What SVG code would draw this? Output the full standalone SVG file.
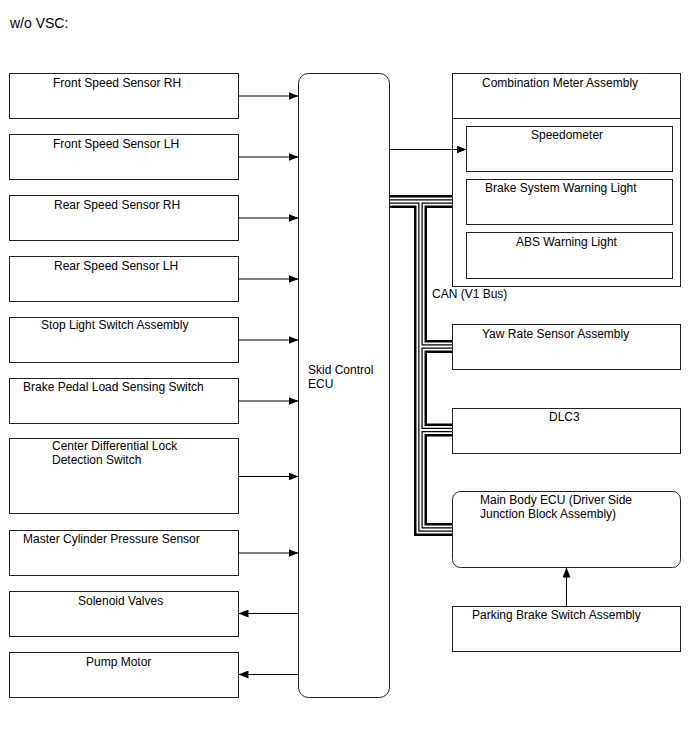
<svg xmlns="http://www.w3.org/2000/svg" width="688" height="755" viewBox="0 0 688 755">
<style>
text{font-family:"Liberation Sans",Arial,sans-serif;font-size:12px;fill:#000}
.box{fill:#fff;stroke:#222;stroke-width:1}
.ln{fill:none;stroke:#000;stroke-width:1}
.b1{fill:none;stroke:#000;stroke-width:13}
.w1{fill:none;stroke:#fff;stroke-width:8}
.b2{fill:none;stroke:#000;stroke-width:4.5}
.w2{fill:none;stroke:#fff;stroke-width:2}
</style>
<defs>
<marker id="ah" viewBox="0 0 10 8" refX="10" refY="4" markerWidth="10" markerHeight="8" markerUnits="userSpaceOnUse" orient="auto">
<path d="M0,0 L10,4 L0,8 z" fill="#000"/>
</marker>
</defs>
<rect width="688" height="755" fill="#fff"/>
<text x="10" y="28" style="font-size:14px">w/o VSC:</text>

<g id="n-frs-rh"><rect class="box" x="9.5" y="73.5" width="229" height="45"/><text x="53" y="87">Front Speed Sensor RH</text></g>
<g id="n-frs-lh"><rect class="box" x="9.5" y="134.5" width="229" height="45"/><text x="53" y="148">Front Speed Sensor LH</text></g>
<g id="n-rrs-rh"><rect class="box" x="9.5" y="195.5" width="229" height="45"/><text x="54" y="209">Rear Speed Sensor RH</text></g>
<g id="n-rrs-lh"><rect class="box" x="9.5" y="256.5" width="229" height="45"/><text x="54" y="270">Rear Speed Sensor LH</text></g>
<g id="n-stop"><rect class="box" x="9.5" y="317.5" width="229" height="45"/><text x="41" y="329">Stop Light Switch Assembly</text></g>
<g id="n-bpl"><rect class="box" x="9.5" y="378.5" width="229" height="45"/><text x="23" y="391">Brake Pedal Load Sensing Switch</text></g>
<g id="n-cdl"><rect class="box" x="9.5" y="438.5" width="229" height="75"/><text x="52" y="450">Center Differential Lock</text><text x="52" y="464">Detection Switch</text></g>
<g id="n-mcp"><rect class="box" x="9.5" y="530.5" width="229" height="45"/><text x="23" y="543">Master Cylinder Pressure Sensor</text></g>
<g id="n-sol"><rect class="box" x="9.5" y="591.5" width="229" height="45"/><text x="78" y="605">Solenoid Valves</text></g>
<g id="n-pump"><rect class="box" x="9.5" y="652.5" width="229" height="45"/><text x="86" y="666">Pump Motor</text></g>

<g id="n-ecu"><rect class="box" x="298.5" y="73.5" width="91" height="624" rx="10" ry="10"/><text x="308" y="374">Skid Control</text><text x="308" y="388">ECU</text></g>

<g id="n-meter">
<rect class="box" x="452.5" y="73.5" width="228" height="213"/>
<line class="ln" x1="452.5" y1="118.5" x2="680.5" y2="118.5" style="stroke:#222"/>
<text x="482" y="87">Combination Meter Assembly</text>
<g id="n-speedo"><rect class="box" x="466.5" y="126.5" width="206" height="45"/><text x="531" y="139">Speedometer</text></g>
<g id="n-bswl"><rect class="box" x="466.5" y="179.5" width="206" height="45"/><text x="485" y="192">Brake System Warning Light</text></g>
<g id="n-abs"><rect class="box" x="466.5" y="232.5" width="206" height="46"/><text x="516" y="246">ABS Warning Light</text></g>
</g>
<g id="n-yaw"><rect class="box" x="452.5" y="324.5" width="228" height="45"/><text x="482" y="338">Yaw Rate Sensor Assembly</text></g>
<g id="n-dlc3"><rect class="box" x="452.5" y="408.5" width="228" height="45"/><text x="549" y="421">DLC3</text></g>
<g id="n-mbecu"><rect class="box" x="452.5" y="491.5" width="228" height="76" rx="8" ry="8"/><text x="480" y="504">Main Body ECU (Driver Side</text><text x="480" y="518">Junction Block Assembly)</text></g>
<g id="n-pbs"><rect class="box" x="452.5" y="606.5" width="228" height="45"/><text x="472" y="619">Parking Brake Switch Assembly</text></g>

<g id="connectors">
<line class="ln" x1="238.5" y1="96" x2="298.5" y2="96" marker-end="url(#ah)"/>
<line class="ln" x1="238.5" y1="157" x2="298.5" y2="157" marker-end="url(#ah)"/>
<line class="ln" x1="238.5" y1="218" x2="298.5" y2="218" marker-end="url(#ah)"/>
<line class="ln" x1="238.5" y1="279" x2="298.5" y2="279" marker-end="url(#ah)"/>
<line class="ln" x1="238.5" y1="340" x2="298.5" y2="340" marker-end="url(#ah)"/>
<line class="ln" x1="238.5" y1="401" x2="298.5" y2="401" marker-end="url(#ah)"/>
<line class="ln" x1="238.5" y1="476.5" x2="298.5" y2="476.5" marker-end="url(#ah)"/>
<line class="ln" x1="238.5" y1="553" x2="298.5" y2="553" marker-end="url(#ah)"/>
<line class="ln" x1="298.5" y1="613.5" x2="238.5" y2="613.5" marker-end="url(#ah)"/>
<line class="ln" x1="298.5" y1="674.5" x2="238.5" y2="674.5" marker-end="url(#ah)"/>
<line class="ln" x1="389.5" y1="149.5" x2="466.5" y2="149.5" marker-end="url(#ah)"/>
<line class="ln" x1="566.5" y1="606.5" x2="566.5" y2="567.5" marker-end="url(#ah)"/>
<g id="can-bus">
<path class="b1" d="M390,201.5 H452 M420.5,201.5 V529.5 H452 M420.5,346.5 H452 M420.5,430 H452"/>
<path class="w1" d="M390,201.5 H452 M420.5,201.5 V529.5 H452 M420.5,346.5 H452 M420.5,430 H452"/>
<path class="b2" d="M390,201.5 H452 M420.5,201.5 V529.5 H452 M420.5,346.5 H452 M420.5,430 H452"/>
<path class="w2" d="M390,201.5 H452 M420.5,201.5 V529.5 H452 M420.5,346.5 H452 M420.5,430 H452"/>
</g>
<text x="432" y="298">CAN (V1 Bus)</text>
</g>
</svg>
